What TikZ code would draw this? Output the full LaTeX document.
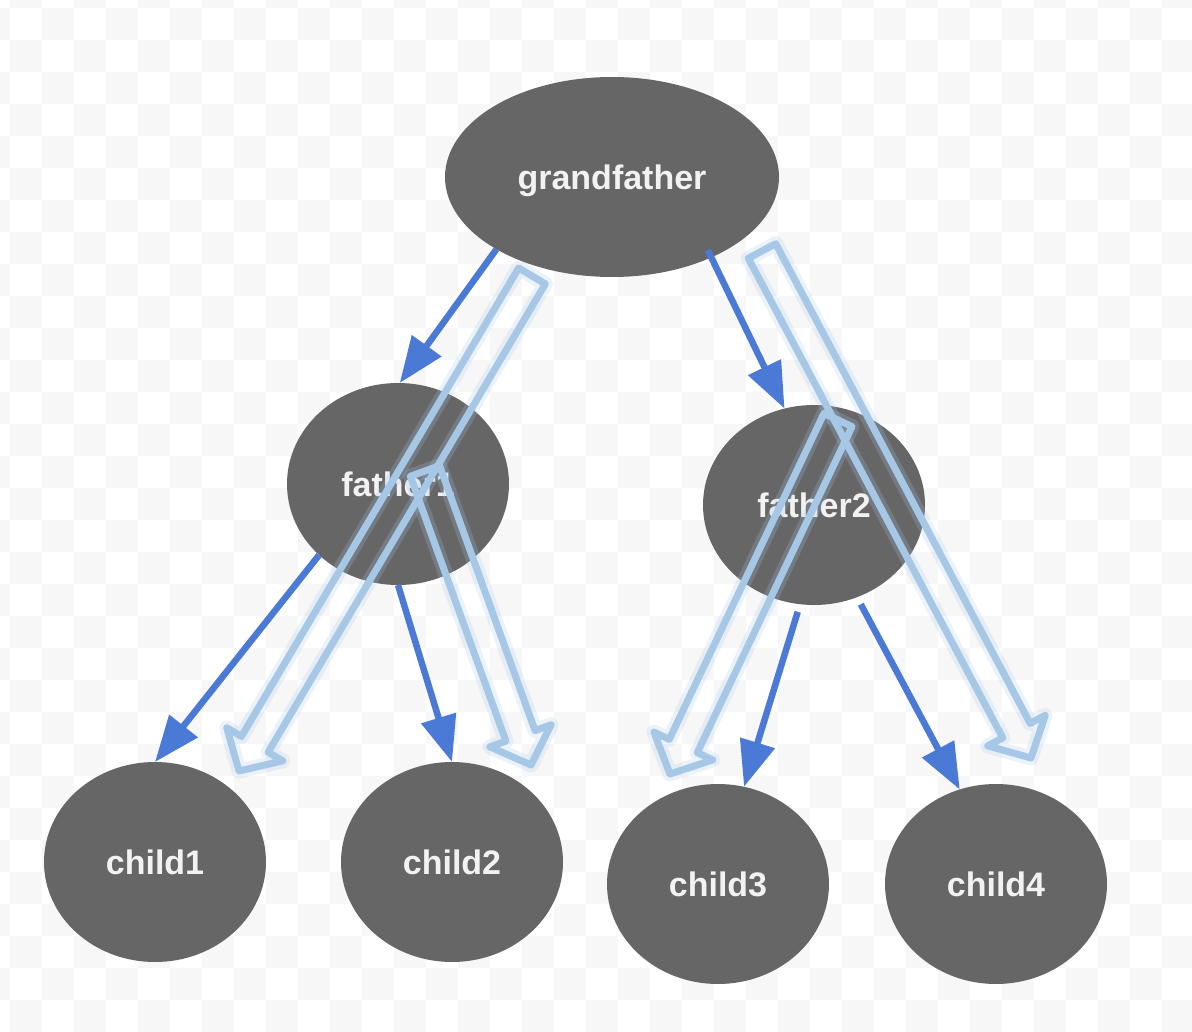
\documentclass[tikz,border=0pt]{standalone}
\usepackage{fontspec}
\setmainfont{Liberation Sans}
\usetikzlibrary{shapes.geometric,arrows.meta,calc}
\definecolor{nodegray}{RGB}{102,102,102}
\definecolor{txtwhite}{RGB}{242,242,242}
\definecolor{chk}{RGB}{247,247,247}
\definecolor{arrowblue}{RGB}{74,122,214}
\definecolor{hollowblue}{RGB}{166,199,230}
\newcommand\hollowarr[2]{%
  \path ($(#2)!31pt!(#1)$) coordinate (hb);
  \foreach \sty in {hollowglow,hollow}{
  \draw[\sty] ($(#1)!15.5pt!90:(#2)$) -- ($(hb)!15.5pt!90:(#2)$) -- ($(hb)!32.5pt!90:(#2)$) -- (#2)
     -- ($(hb)!32.5pt!-90:(#2)$) -- ($(hb)!15.5pt!-90:(#2)$) -- ($(#1)!15.5pt!-90:(#2)$) -- cycle;}
}
\begin{document}
\begin{tikzpicture}[x=1pt,y=-1pt,
  treenode/.style={ellipse, fill=nodegray, text=txtwhite, font=\fontsize{34}{40}\selectfont\bfseries, inner sep=0pt, outer sep=0pt, text depth=0pt},
  link/.style={arrowblue, line width=6.5pt, -{Triangle[length=46pt,width=35pt]}},
  hollow/.style={hollowblue, line width=7pt, line join=round},
  hollowglow/.style={hollowblue, line width=15pt, line join=round, opacity=0.22},
]
\useasboundingbox (0,0) rectangle (1192,1032);
\begin{scope}
  \clip (0,0) rectangle (1192,1032);
  \fill[white] (0,0) rectangle (1192,1032);
  \foreach \i in {-1,...,37}{
    \foreach \j in {-1,...,32}{
      \pgfmathtruncatemacro\chkodd{mod(\i+\j+2,2)}
      \ifnum\chkodd=1 \fill[chk] ({10+32*\i},{8+32*\j}) rectangle ++(32,32); \fi
    }
  }
\end{scope}
% nodes
\node[treenode, minimum width=334pt, minimum height=200pt] (gf) at (612,177) {grandfather};
\node[treenode, minimum width=222pt, minimum height=202pt] (f1) at (398,484) {father1};
\node[treenode, minimum width=222pt, minimum height=200pt] (f2) at (814,505) {father2};
\node[treenode, minimum width=222pt, minimum height=200pt] (c1) at (155,862) {child1};
\node[treenode, minimum width=222pt, minimum height=200pt] (c2) at (452,862) {child2};
\node[treenode, minimum width=222pt, minimum height=200pt] (c3) at (718,884) {child3};
\node[treenode, minimum width=222pt, minimum height=200pt] (c4) at (996,884) {child4};
% solid arrows
\draw[link] (gf.212) -- (f1.89);
\draw[link, shorten <=-8pt] (gf.-39) -- (f2.107);
\draw[link] (f1.222) -- (c1.90);
\draw[link] (f1.-90) -- (c2.90);
\draw[link, shorten <=8pt] (f2.262) -- (c3.75);
\draw[link, shorten <=8pt] (f2.-65) -- (c4.111);
% hollow arrows
\coordinate (hAt) at (532,276); \coordinate (hAp) at (239,771);
\coordinate (hBt) at (762,251); \coordinate (hBp) at (1031,758);
\coordinate (hCt) at (425,471); \coordinate (hCp) at (531,765);
\coordinate (hDt) at (838,420); \coordinate (hDp) at (670,774);
\hollowarr{hAt}{hAp}
\hollowarr{hBt}{hBp}
\hollowarr{hCt}{hCp}
\hollowarr{hDt}{hDp}
\end{tikzpicture}
\end{document}
